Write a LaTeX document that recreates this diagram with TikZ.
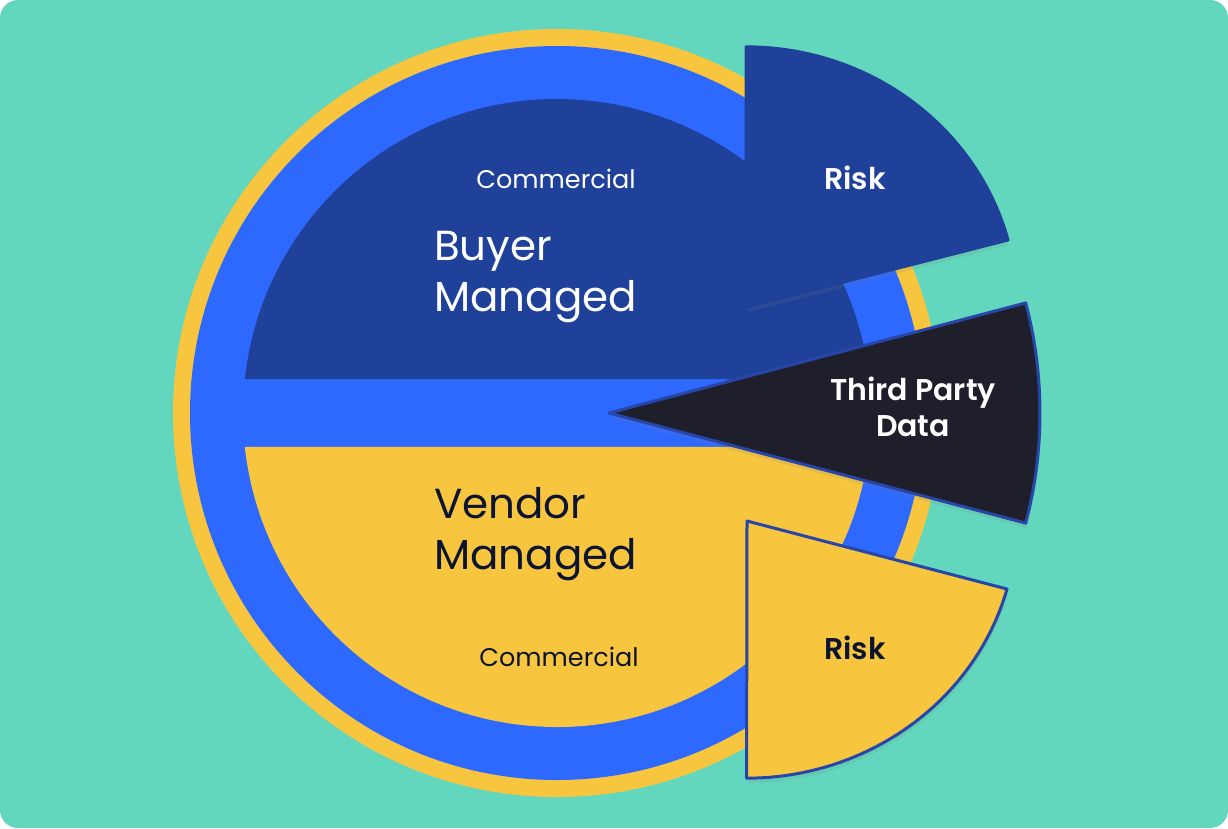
\documentclass[tikz,border=0pt]{standalone}
\usepackage{fontspec}
\setmainfont{Poppins}[BoldFont={* SemiBold}]
\usepackage{tikz}
\usetikzlibrary{shadows}
\definecolor{bgteal}{RGB}{98,215,189}
\definecolor{sunyellow}{RGB}{247,198,62}
\definecolor{brightblue}{RGB}{45,105,255}
\definecolor{deepblue}{RGB}{31,65,153}
\definecolor{edgeblue}{RGB}{40,70,170}
\definecolor{inkblack}{RGB}{30,31,43}
\definecolor{inknavy}{RGB}{12,20,50}
\tikzset{
  base/.style={inner sep=0pt, align=left},
  big/.style={base, font=\fontsize{42}{51}\selectfont},
  small/.style={base, font=\fontsize{25.5}{28}\selectfont},
  tag/.style={base, align=center, font=\bfseries\fontsize{30}{36}\selectfont},
  slice/.style={line width=3pt, line join=round, drop shadow={opacity=0.15, shadow xshift=1pt, shadow yshift=-5pt}},
}
\begin{document}
\begin{tikzpicture}[x=1pt,y=-1pt]
  \useasboundingbox (0,0) rectangle (1228,828);
  \fill[white] (0,0) rectangle (1228,828);
  \fill[bgteal,rounded corners=18pt] (0,0) rectangle (1228,828);
  % pie
  \fill[sunyellow] (557,413) circle[radius=384];
  \fill[brightblue] (557,413) circle[radius=367];
  \fill[deepblue] (557,413) ++(186.2:314) arc[start angle=186.2, end angle=353.8, radius=314] -- cycle;
  \fill[sunyellow] (557,413) ++(6.2:314) arc[start angle=6.2, end angle=173.8, radius=314] -- cycle;
  % pulled-out slices
  \path[slice, fill=deepblue, draw=deepblue] (746,307) -- (1008,240)
    arc[start angle=-14.9, end angle=-90, x radius=271, y radius=260] -- cycle;
  \path[slice, fill=inkblack, draw=edgeblue] (609,413) -- +(-14.8:431)
    arc[start angle=-14.8, end angle=14.8, radius=431] -- cycle;
  \path[slice, fill=sunyellow, draw=edgeblue] (747,521) -- (1007,589)
    arc[start angle=15.3, end angle=90, x radius=270, y radius=257] -- cycle;
  % labels
  \node[small, text=white] (comtop) at (556,179) {Commercial};
  \node[big, text=white, anchor=west] (buyer) at (434,277) {Buyer\\Managed};
  \node[big, text=inknavy, anchor=west] (vendor) at (434,534) {Vendor\\Managed};
  \node[small, text=inknavy] (combot) at (559,657) {Commercial};
  \node[tag, text=white] (risktop) at (855,178) {Risk};
  \node[tag, text=inknavy] (riskbot) at (855,648) {Risk};
  \node[tag, text=white] (third) at (913,407) {Third Party\\Data};
\end{tikzpicture}
\end{document}
